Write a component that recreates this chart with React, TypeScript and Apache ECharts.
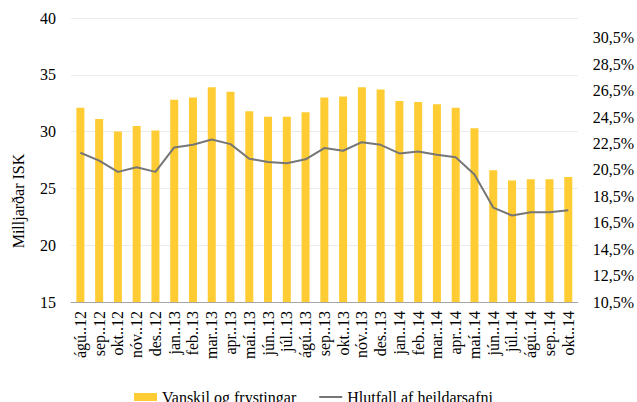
import React, { useEffect, useRef } from "react";
import * as echarts from "echarts";

const categories = [
  "ágú..12", "sep..12", "okt..12", "nóv..12", "des..12",
  "jan..13", "feb..13", "mar..13", "apr..13", "maí..13", "jún..13", "júl..13",
  "ágú..13", "sep..13", "okt..13", "nóv..13", "des..13",
  "jan..14", "feb..14", "mar..14", "apr..14", "maí..14", "jún..14", "júl..14",
  "ágú..14", "sep..14", "okt..14",
];

const vanskil = [
  32.1, 31.1, 30.0, 30.5, 30.1,
  32.8, 33.0, 33.9, 33.5, 31.8, 31.3, 31.3,
  31.7, 33.0, 33.1, 33.9, 33.7,
  32.7, 32.6, 32.4, 32.1, 30.3, 26.6, 25.7,
  25.8, 25.8, 26.0,
];

const hlutfall = [
  21.8, 21.2, 20.35, 20.7, 20.35,
  22.2, 22.4, 22.8, 22.45, 21.35, 21.1, 21.0,
  21.3, 22.15, 21.95, 22.6, 22.4,
  21.75, 21.9, 21.65, 21.45, 20.15, 17.65, 17.05,
  17.3, 17.3, 17.45,
];

const leftTicks = { min: 15, max: 40, interval: 5 };
const rightLabels = [10.5, 12.5, 14.5, 16.5, 18.5, 20.5, 22.5, 24.5, 26.5, 28.5, 30.5];
const rightRange = { min: 10.5, max: 32 };

const FONT = "'Liberation Serif', 'Times New Roman', serif";

export default function App() {
  const ref = useRef<HTMLDivElement>(null);
  useEffect(() => {
    if (!ref.current) return;
    const chart = echarts.init(ref.current, null, { renderer: "svg" });
    chart.setOption({
      animation: false,
      backgroundColor: "#ffffff",
      textStyle: { fontFamily: FONT, color: "#000" },
      grid: { left: 71, right: 58, top: 18, bottom: 100, containLabel: false },
      legend: {
        left: 129,
        top: 384,
        itemWidth: 23,
        itemHeight: 8,
        itemGap: 22,
        textStyle: { fontFamily: FONT, fontSize: 16, color: "#000" },
        data: [
          { name: "Vanskil og frystingar", icon: "rect" },
          { name: "Hlutfall af heildarsafni", itemStyle: { opacity: 0 } },
        ],
      },
      graphic: [
        {
          type: "text",
          x: 18,
          y: 201,
          rotation: Math.PI / 2,
          style: {
            text: "Milljarðar ISK",
            font: `16px ${FONT}`,
            fill: "#000",
            textAlign: "center",
            textVerticalAlign: "middle",
          },
        },
      ],
      xAxis: {
        type: "category",
        data: categories,
        axisLine: { lineStyle: { color: "#a6a6a6", width: 1 } },
        axisTick: { show: false },
        axisLabel: {
          interval: 0,
          rotate: 90,
          margin: 9,
          fontFamily: FONT,
          fontSize: 16,
          color: "#000",
        },
      },
      yAxis: [
        {
          type: "value",
          min: leftTicks.min,
          max: leftTicks.max,
          interval: leftTicks.interval,
          axisLine: { show: false },
          axisTick: { show: false },
          splitLine: { lineStyle: { color: "#ebebeb", width: 1 } },
          axisLabel: { margin: 15, fontFamily: FONT, fontSize: 16, color: "#000" },
        },
        {
          type: "value",
          position: "right",
          min: rightRange.min,
          max: rightRange.max,
          axisLine: { show: false },
          axisTick: { show: false, customValues: rightLabels },
          splitLine: { show: false },
          axisLabel: {
            customValues: rightLabels,
            margin: 15,
            fontFamily: FONT,
            fontSize: 16,
            color: "#000",
            formatter: (v: number) => v.toFixed(1).replace(".", ",") + "%",
          },
        },
      ],
      series: [
        {
          name: "Vanskil og frystingar",
          type: "bar",
          data: vanskil,
          barWidth: 8,
          itemStyle: { color: "#FFCC33" },
          yAxisIndex: 0,
        },
        {
          name: "Hlutfall af heildarsafni",
          type: "line",
          data: hlutfall,
          yAxisIndex: 1,
          symbol: "none",
          lineStyle: { color: "#767676", width: 2 },
          itemStyle: { color: "#767676" },
        },
      ],
    });
    return () => chart.dispose();
  }, []);
  return (
    <div
      ref={ref}
      style={{ position: "fixed", left: 0, top: 0, width: 637, height: 402 }}
    />
  );
}
